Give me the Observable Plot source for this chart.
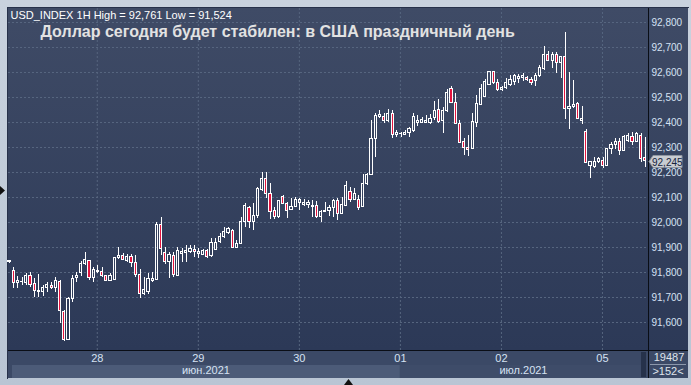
<!DOCTYPE html>
<html>
<head>
<meta charset="utf-8">
<script src="https://cdn.jsdelivr.net/npm/d3@7"></script>
<script src="https://cdn.jsdelivr.net/npm/@observablehq/plot@0.6"></script>
<style>
  html, body { margin: 0; padding: 0; }
  body { width: 691px; height: 385px; overflow: hidden; background: linear-gradient(#c9d2de, #b9c5d4); font-family: "Liberation Sans", Arial, sans-serif; }
  #wrap { position: relative; width: 691px; height: 385px; }
  .layer { position: absolute; }
  #plotbg { left: 8px; top: 8px; width: 680px; height: 342px; background: linear-gradient(#3f4b66, #2c3957); }
  #axisrow { left: 8px; top: 351px; width: 680px; height: 27px; background: #3b4966; }
  #borderL { left: 7px; top: 7px; width: 1px; height: 372px; background: #27314a; }
  #borderT { left: 7px; top: 7px; width: 682px; height: 1px; background: #27314a; }
  #chart { position: absolute; left: 0; top: 0; }
</style>
</head>
<body>
<div id="wrap">
  <div class="layer" id="plotbg"></div>
  <div class="layer" id="axisrow"></div>
  <div class="layer" id="borderL"></div>
  <div class="layer" id="borderT"></div>
  <div id="chart"></div>
</div>
<script>
// USD_INDEX, hourly candles, 25 Jun – 5 Jul 2021
const opens = [
  91.843, 91.808, 91.760, 91.762, 91.760, 91.788, 91.755, 91.723, 91.723, 91.739,
  91.745, 91.739, 91.764, 91.644, 91.531, 91.693, 91.777, 91.797, 91.833, 91.845,
  91.779, 91.801, 91.804, 91.787, 91.768, 91.772, 91.857, 91.868, 91.848, 91.864,
  91.839, 91.791, 91.715, 91.724, 91.768, 91.771, 91.992, 91.879, 91.841, 91.868,
  91.788, 91.875, 91.877, 91.881, 91.891, 91.875, 91.872, 91.888, 91.865, 91.891,
  91.921, 91.941, 91.959, 91.968, 91.899, 91.915, 92.004, 92.057, 92.004, 92.028,
  92.131, 92.175, 92.115, 92.048, 92.021, 92.104, 92.075, 92.052, 92.064, 92.079,
  92.072, 92.071, 92.061, 92.068, 92.021, 92.044, 92.048, 92.059, 92.088, 92.035,
  92.068, 92.121, 92.091, 92.092, 92.061, 92.155, 92.192, 92.335, 92.421, 92.424,
  92.405, 92.435, 92.352, 92.353, 92.352, 92.357, 92.365, 92.400, 92.397, 92.397,
  92.397, 92.419, 92.451, 92.405, 92.448, 92.535, 92.477, 92.395, 92.324, 92.299,
  92.295, 92.397, 92.472, 92.504, 92.552, 92.604, 92.557, 92.531, 92.539, 92.552,
  92.564, 92.575, 92.579, 92.579, 92.572, 92.568, 92.588, 92.615, 92.671, 92.648,
  92.671, 92.639, 92.661, 92.455, 92.461, 92.475, 92.408, 92.364, 92.225, 92.221,
  92.241, 92.248, 92.228, 92.295, 92.311, 92.324, 92.288, 92.328, 92.341, 92.321,
  92.348, 92.257
];
const highs = [
  91.848, 91.821, 91.785, 91.781, 91.795, 91.799, 91.775, 91.792, 91.748, 91.761,
  91.761, 91.781, 91.768, 91.648, 91.699, 91.788, 91.801, 91.845, 91.880, 91.848,
  91.821, 91.828, 91.821, 91.789, 91.797, 91.861, 91.899, 91.875, 91.872, 91.872,
  91.868, 91.812, 91.781, 91.795, 91.801, 92.001, 92.019, 91.901, 91.881, 91.879,
  91.901, 91.895, 91.908, 91.908, 91.908, 91.895, 91.891, 91.891, 91.937, 91.935,
  91.955, 91.981, 91.981, 91.971, 91.928, 92.021, 92.075, 92.065, 92.075, 92.141,
  92.201, 92.199, 92.155, 92.061, 92.088, 92.108, 92.081, 92.095, 92.101, 92.095,
  92.091, 92.088, 92.088, 92.085, 92.048, 92.081, 92.068, 92.092, 92.095, 92.101,
  92.164, 92.139, 92.135, 92.108, 92.192, 92.197, 92.408, 92.435, 92.448, 92.435,
  92.451, 92.448, 92.368, 92.361, 92.368, 92.381, 92.437, 92.428, 92.421, 92.428,
  92.432, 92.485, 92.491, 92.461, 92.531, 92.544, 92.515, 92.408, 92.335, 92.348,
  92.435, 92.508, 92.552, 92.571, 92.605, 92.605, 92.571, 92.544, 92.575, 92.588,
  92.592, 92.592, 92.595, 92.584, 92.579, 92.595, 92.628, 92.705, 92.684, 92.681,
  92.679, 92.664, 92.761, 92.601, 92.568, 92.479, 92.464, 92.372, 92.245, 92.260,
  92.261, 92.260, 92.297, 92.319, 92.337, 92.335, 92.348, 92.355, 92.359, 92.359,
  92.355, 92.341
];
const lows = [
  91.835, 91.735, 91.735, 91.748, 91.748, 91.741, 91.699, 91.699, 91.704, 91.721,
  91.731, 91.721, 91.595, 91.524, 91.529, 91.679, 91.761, 91.784, 91.828, 91.768,
  91.761, 91.795, 91.781, 91.764, 91.765, 91.771, 91.851, 91.848, 91.841, 91.821,
  91.781, 91.695, 91.708, 91.711, 91.761, 91.768, 91.868, 91.831, 91.775, 91.781,
  91.785, 91.841, 91.841, 91.875, 91.861, 91.857, 91.868, 91.857, 91.861, 91.888,
  91.915, 91.935, 91.952, 91.895, 91.895, 91.911, 91.981, 91.975, 91.968, 92.015,
  92.124, 92.095, 92.012, 92.011, 92.015, 92.072, 92.015, 92.048, 92.059, 92.048,
  92.064, 92.055, 92.021, 92.015, 92.001, 92.041, 92.024, 92.021, 92.008, 92.032,
  92.064, 92.081, 92.088, 92.048, 92.059, 92.148, 92.188, 92.261, 92.415, 92.395,
  92.401, 92.335, 92.341, 92.341, 92.348, 92.339, 92.361, 92.384, 92.395, 92.395,
  92.392, 92.408, 92.395, 92.357, 92.441, 92.475, 92.392, 92.315, 92.268, 92.264,
  92.291, 92.381, 92.468, 92.499, 92.548, 92.552, 92.525, 92.525, 92.531, 92.544,
  92.548, 92.557, 92.564, 92.565, 92.548, 92.544, 92.581, 92.608, 92.644, 92.617,
  92.595, 92.575, 92.412, 92.372, 92.457, 92.412, 92.391, 92.237, 92.175, 92.217,
  92.235, 92.217, 92.225, 92.271, 92.292, 92.268, 92.284, 92.319, 92.308, 92.319,
  92.239, 92.221
];
const closes = [
  91.846, 91.759, 91.765, 91.764, 91.788, 91.752, 91.727, 91.725, 91.739, 91.751,
  91.739, 91.767, 91.648, 91.531, 91.695, 91.775, 91.787, 91.835, 91.852, 91.777,
  91.812, 91.808, 91.788, 91.767, 91.788, 91.859, 91.868, 91.851, 91.864, 91.837,
  91.791, 91.715, 91.732, 91.775, 91.773, 91.992, 91.895, 91.841, 91.871, 91.791,
  91.888, 91.884, 91.888, 91.895, 91.881, 91.884, 91.888, 91.861, 91.919, 91.919,
  91.944, 91.964, 91.975, 91.900, 91.915, 92.004, 92.065, 92.004, 92.028, 92.135,
  92.175, 92.115, 92.041, 92.024, 92.085, 92.075, 92.048, 92.061, 92.092, 92.091,
  92.080, 92.077, 92.068, 92.021, 92.044, 92.048, 92.059, 92.088, 92.035, 92.071,
  92.148, 92.091, 92.115, 92.059, 92.155, 92.192, 92.335, 92.428, 92.432, 92.408,
  92.435, 92.352, 92.360, 92.356, 92.359, 92.375, 92.424, 92.405, 92.411, 92.408,
  92.415, 92.448, 92.401, 92.448, 92.519, 92.477, 92.395, 92.317, 92.299, 92.291,
  92.401, 92.475, 92.535, 92.561, 92.601, 92.559, 92.531, 92.539, 92.560, 92.571,
  92.588, 92.581, 92.585, 92.571, 92.559, 92.588, 92.617, 92.671, 92.648, 92.672,
  92.639, 92.661, 92.455, 92.461, 92.471, 92.415, 92.415, 92.239, 92.244, 92.241,
  92.255, 92.228, 92.295, 92.311, 92.324, 92.288, 92.341, 92.348, 92.324, 92.355,
  92.255, 92.245
];

// price axis and day axis
const priceTicks = [91.6, 91.7, 91.8, 91.9, 92.0, 92.1, 92.2, 92.3, 92.4, 92.5, 92.6, 92.7, 92.8];
const dayTicks = [20.85, 44.85, 68.85, 92.85, 116.85, 140.85];   // bar index of each midnight
const dayLabels = ["28", "29", "30", "01", "02", "05"];
const monthLabels = ["июн.2021", "июл.2021"];
const titleText = "Доллар сегодня будет стабилен: в США праздничный день";
const symbolText = "USD_INDEX 1H";
const totalBars = "19487";

const candles = opens.map((o, i) => ({i, o, h: highs[i], l: lows[i], c: closes[i]}));
const fmt = v => v.toFixed(3).replace(".", ",");
const hi = d3.max(highs), lo = d3.min(lows);
const last = closes[closes.length - 1];

const RED = "#e3143e";
const GRID = "#56657f";
const LABEL = "#d6e2f3";

const chart = Plot.plot({
  width: 691,
  height: 385,
  marginLeft: 8,
  marginRight: 43,
  marginTop: 8,
  marginBottom: 35,
  style: {background: "transparent", fontFamily: "'Liberation Sans', Arial, sans-serif", fontSize: "11px", overflow: "visible"},
  x: {type: "linear", domain: [-0.2375, 151.78], axis: null},
  y: {domain: [91.488, 92.856], axis: null},
  marks: [
    Plot.gridY({ticks: priceTicks, stroke: GRID, strokeOpacity: 1, strokeDasharray: "2,2"}),
    Plot.gridX({ticks: dayTicks, stroke: GRID, strokeOpacity: 1, strokeDasharray: "2,2"}),
    // upper and lower wicks
    Plot.ruleX(candles, {x: "i", y1: "h", y2: d => Math.max(d.o, d.c), stroke: "#ffffff", shapeRendering: "crispEdges"}),
    Plot.ruleX(candles, {x: "i", y1: d => Math.min(d.o, d.c), y2: "l", stroke: "#ffffff", shapeRendering: "crispEdges"}),
    // bodies: hollow when rising, red when falling
    Plot.rect(candles, {
      x1: d => d.i - 0.26, x2: d => d.i + 0.26, y1: "o", y2: "c",
      fill: d => d.c < d.o ? RED : "none", stroke: "#ffffff", strokeWidth: 1, shapeRendering: "crispEdges"
    }),
    Plot.axisY({ticks: priceTicks, anchor: "right", tickSize: 0, tickPadding: 3, tickFormat: fmt, color: LABEL, fontSize: 10, label: null}),
    Plot.axisX({ticks: dayTicks, anchor: "bottom", tickSize: 0, tickPadding: 4, tickFormat: d => dayLabels[dayTicks.indexOf(d)], color: LABEL, fontSize: 11, label: null}),
    Plot.text([`${symbolText} High = ${fmt(hi)} Low = ${fmt(lo)}`], {frameAnchor: "top-left", dx: 2, dy: 3, lineAnchor: "top", fill: "#ffffff", fontSize: 11}),
    Plot.text([titleText], {frameAnchor: "top-left", dx: 32, dy: 17, lineAnchor: "top", fill: "#e2e2e2", fontSize: 16, fontWeight: "bold"})
  ]
});
document.getElementById("chart").append(chart);

// chrome drawn around the plot frame
const svg = d3.select(chart);
const xs = chart.scale("x"), ys = chart.scale("y");
const xJul = xs.apply(dayTicks[3]);
const bands = svg.insert("g", ":first-child");
bands.append("rect").attr("x", 12).attr("y", 365).attr("width", xJul - 12).attr("height", 13).attr("fill", "#4c5b78");
bands.append("rect").attr("x", xJul).attr("y", 365).attr("width", 641 - xJul).attr("height", 13).attr("fill", "#3e4c69");
bands.append("rect").attr("x", 641).attr("y", 352).attr("width", 5).attr("height", 25).attr("fill", "#26324b");

const over = svg.append("g");
over.append("line").attr("x1", 8).attr("x2", 688).attr("y1", 350.5).attr("y2", 350.5).attr("stroke", "#0a0e16");
over.append("line").attr("x1", 648.5).attr("x2", 648.5).attr("y1", 8).attr("y2", 378).attr("stroke", "#0a0e16");
[[ (12 + xJul) / 2, monthLabels[0] ], [ (xJul + 641) / 2 + 3, monthLabels[1] ]].forEach(([x, t]) => {
  over.append("text").attr("x", x).attr("y", 374).attr("text-anchor", "middle")
    .attr("fill", LABEL).attr("font-size", 11).text(t);
});
over.append("text").attr("x", 669).attr("y", 361).attr("text-anchor", "middle").attr("fill", "#dfe4ec").attr("font-size", 11).text(totalBars);
over.append("line").attr("x1", 650).attr("x2", 686).attr("y1", 364.5).attr("y2", 364.5).attr("stroke", "#8c98ab");
over.append("text").attr("x", 668).attr("y", 375).attr("text-anchor", "middle").attr("fill", "#dfe4ec").attr("font-size", 11).text(`>${candles.length}<`);

// last price tag
const yl = Math.round(ys.apply(last)) + 0.5;
over.append("path")
  .attr("d", `M649,${yl} L653,${yl - 6} L682,${yl - 6} L682,${yl + 6} L653,${yl + 6} Z`)
  .attr("fill", "#c8ccd2").attr("stroke", "#8e95a0");
over.append("text").attr("x", 652).attr("y", yl + 4).attr("text-anchor", "start")
  .attr("fill", "#16233c").attr("font-size", 10).text(fmt(last));

// scroll markers on the window edges
over.append("path").attr("d", "M0,186 L5,190.5 L0,195 Z").attr("fill", "#111");
over.append("path").attr("d", "M344,385 L348.5,379 L353,385 Z").attr("fill", "#111");
</script>
</body>
</html>
